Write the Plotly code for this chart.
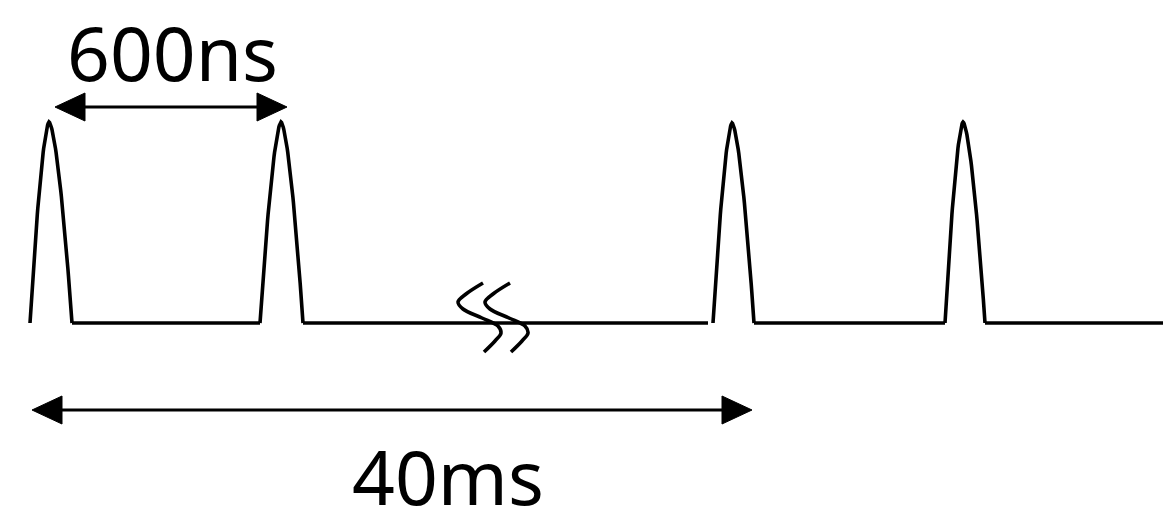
import numpy as np
import plotly.graph_objects as go

# ---- diagram data (pixel-like schematic units) ----
pulse_start = [30, 260, 713, 945]
pulse_peak = [49, 281, 732, 963]
pulse_end = [72, 303, 754, 985]
pulse_peak_y = [122, 122, 123, 122]
baseline_y = 323
# baseline segments (from, to)
baseline_segments = [(72, 260), (303, 708), (754, 945), (985, 1163)]

# break mark (double S) control points
break_s1_x = [483, 466, 458, 463, 482, 498, 501, 495, 484]
break_s1_y = [283, 294, 302, 309, 318, 326, 333, 341, 352]
break_offset = 27

# dimension arrows: (x_left_tip, x_right_tip, y)
arrow_600ns = (55, 287, 107)
arrow_40ms = (32, 752, 410)
labels = ["600ns", "40ms"]
label_pos = [(172, 52), (448, 476)]

W, H = 1163, 511
LINE_W = 3.6
HEAD_LEN = 30
HEAD_HALF = 14

fig = go.Figure()


def pulse(x0, xp, x1, yp, n=40):
    p = 1.6
    ul = np.linspace(1, 0, n)
    ur = np.linspace(0, 1, n)[1:]
    xl = xp - ul * (xp - x0)
    xr = xp + ur * (x1 - xp)
    yl = baseline_y - (baseline_y - yp) * (1 - ul ** p)
    yr = baseline_y - (baseline_y - yp) * (1 - ur ** p)
    return list(xl) + list(xr), list(yl) + list(yr)


line_style = dict(color="black", width=LINE_W)

for i in range(len(pulse_start)):
    xs, ys = pulse(pulse_start[i], pulse_peak[i], pulse_end[i], pulse_peak_y[i])
    fig.add_trace(go.Scatter(x=xs, y=ys, mode="lines", line=line_style,
                             hoverinfo="skip", showlegend=False))

for a, b in baseline_segments:
    fig.add_trace(go.Scatter(x=[a, b], y=[baseline_y, baseline_y], mode="lines",
                             line=line_style, hoverinfo="skip", showlegend=False))

for k in range(2):
    fig.add_trace(go.Scatter(x=[v + k * break_offset for v in break_s1_x], y=break_s1_y,
                             mode="lines", line=dict(color="black", width=LINE_W, shape="spline"),
                             hoverinfo="skip", showlegend=False))

for (xl, xr, y) in [arrow_600ns, arrow_40ms]:
    fig.add_trace(go.Scatter(x=[xl + HEAD_LEN - 2, xr - HEAD_LEN + 2], y=[y, y], mode="lines",
                             line=dict(color="black", width=3.2), hoverinfo="skip", showlegend=False))
    for tip, d in [(xl, 1), (xr, -1)]:
        fig.add_trace(go.Scatter(
            x=[tip, tip + d * HEAD_LEN, tip + d * HEAD_LEN, tip],
            y=[y, y - HEAD_HALF, y + HEAD_HALF, y],
            mode="lines", fill="toself", fillcolor="black",
            line=dict(color="black", width=1), hoverinfo="skip", showlegend=False))

for txt, (tx, ty) in zip(labels, label_pos):
    fig.add_annotation(x=tx, y=ty, text=txt, showarrow=False, xref="x", yref="y",
                       xanchor="center", yanchor="middle",
                       font=dict(family="Noto Sans", size=75, color="black"))

fig.update_layout(
    width=W, height=H, autosize=False,
    margin=dict(l=0, r=0, t=0, b=0),
    paper_bgcolor="white", plot_bgcolor="white",
    xaxis=dict(range=[0, W], visible=False, fixedrange=True),
    yaxis=dict(range=[H, 0], visible=False, fixedrange=True),
)

fig.write_html("out.html", config={"displayModeBar": False},
               post_script="document.body.style.margin='0';document.body.style.overflow='hidden';")
